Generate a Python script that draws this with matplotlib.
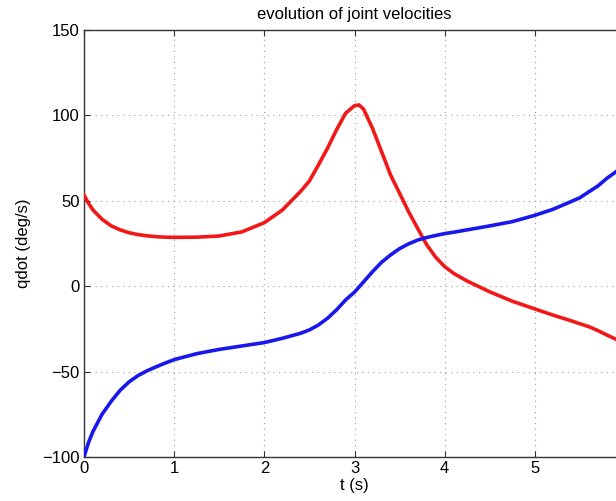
import matplotlib
matplotlib.use("Agg")
import matplotlib.pyplot as plt

# values
t = [0.0, 0.05, 0.1, 0.2, 0.3, 0.4, 0.5, 0.6, 0.7, 0.8, 0.9, 1.0, 1.25, 1.5, 1.75,
     2.0, 2.2, 2.4, 2.5, 2.6, 2.7, 2.8, 2.9, 3.0, 3.05, 3.1, 3.2, 3.3, 3.4, 3.5,
     3.6, 3.7, 3.8, 3.9, 4.0, 4.1, 4.25, 4.5, 4.75, 5.0, 5.2, 5.4, 5.5, 5.6, 5.7,
     5.8, 5.9, 6.0]
qdot_red = [53.4, 48.5, 44.6, 39.2, 35.4, 33.0, 31.3, 30.2, 29.5, 29.0, 28.7, 28.6, 28.7, 29.4, 31.8,
            37.2, 44.6, 55.4, 61.6, 71.0, 80.7, 91.5, 101.2, 105.7, 106.1, 103.7, 92.4, 78.8, 65.1, 54.4,
            43.6, 33.9, 24.3, 17.0, 11.5, 7.5, 3.0, -3.3, -8.8, -13.3, -16.9, -20.2, -22.0, -23.7, -26.0,
            -28.6, -31.1, -34.0]
qdot_blue = [-100.0, -91.5, -85.0, -75.0, -67.5, -61.0, -56.0, -52.3, -49.5, -47.2, -45.0, -43.0, -39.5, -37.0, -35.0,
             -33.0, -30.5, -27.6, -25.6, -22.7, -18.8, -13.9, -8.1, -3.5, -0.5, 2.5, 8.5, 14.0, 18.3, 22.0,
             24.8, 27.0, 28.5, 29.7, 30.8, 31.6, 33.0, 35.3, 37.8, 41.5, 45.0, 49.5, 51.8, 55.3, 58.7,
             63.2, 67.0, 71.5]

plt.rcParams["font.family"] = ["Liberation Sans", "DejaVu Sans"]
plt.rcParams["font.size"] = 12

fig = plt.figure(figsize=(6.16, 5.01), dpi=100)
# axes run to t=6, past the right edge of the picture as in the reference
ax = fig.add_axes([84 / 616, 44 / 501, 541 / 616, 427 / 501])

ax.plot(t, qdot_red, color="#f21818", lw=2.6, zorder=3)
ax.plot(t, qdot_blue, color="#1818ee", lw=2.6, zorder=3)

ax.set_xlim(0, 6)
ax.set_ylim(-100, 150)
ax.set_xticks(range(0, 6))
ax.set_yticks(range(-100, 151, 50))
ax.grid(True, linestyle=(0, (1, 4)), color="#999999", lw=0.8)
ax.tick_params(direction="in", length=4, top=True, right=True, color="#333333", pad=3)
for s in ax.spines.values():
    s.set_color("#333333")
    s.set_linewidth(1.0)

ax.set_xlabel("t (s)", labelpad=1)
ax.set_ylabel("qdot (deg/s)", labelpad=8)
ax.set_title("evolution of joint velocities", fontsize=12, pad=8)

fig.savefig("out.png", dpi=100)
